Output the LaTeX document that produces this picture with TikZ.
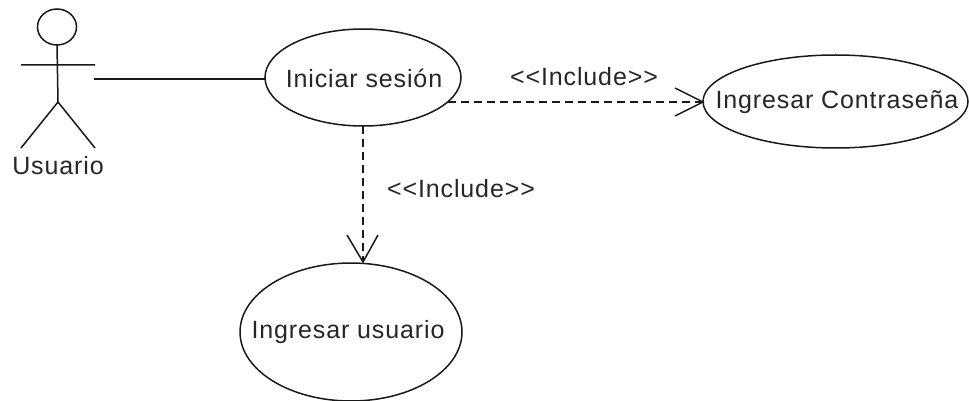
\documentclass[tikz,border=0pt]{standalone}
\usepackage{fontspec}
\setmainfont[LetterSpace=3.5]{Liberation Sans}
\usetikzlibrary{shapes.geometric,calc}
\tikzset{
 usecase/.style={draw=black!90,line width=1.5pt,ellipse,inner sep=0pt,outer sep=0pt},
 txt/.style={font=\fontsize{25pt}{28pt}\selectfont,text=black!85,inner sep=0pt},
 actorline/.style={draw=black!90,line width=1.5pt},
 incl/.style={draw=black!90,line width=1.5pt,dash pattern=on 8pt off 5pt},
 head/.style={draw=black!90,line width=1.5pt},
}
\begin{document}
\begin{tikzpicture}[x=1pt,y=-1pt]
\useasboundingbox (0,0) rectangle (969,401);
\node[usecase,minimum width=196pt,minimum height=97pt] (login) at (363,77.5) {};
\node[usecase,minimum width=265pt,minimum height=93pt] (pass) at (835.5,101.5) {};
\node[usecase,minimum width=222pt,minimum height=138pt] (user) at (351,332) {};
\node[txt] (logintext) at (364,78) {Iniciar sesión};
\node[txt] (passtext) at (837,102) {Ingresar Contraseña};
\node[txt] (usertext) at (348,332) {Ingresar usuario};
\draw[actorline] (57,27) ellipse (19.5 and 18);
\coordinate (neck) at (57,45);
\coordinate (hip) at (58,102);
\coordinate (armL) at (21,65);
\coordinate (armR) at (95,65);
\coordinate (legL) at (21,148);
\coordinate (legR) at (95,148);
\draw[actorline] (neck) -- (hip) (armL) -- (armR) (hip) -- (legL) (hip) -- (legR);
\node[txt] (actorlabel) at (58,166) {Usuario};
\coordinate (assoc) at (94,79);
\draw[actorline] (assoc) -- (assoc -| login.west);
\coordinate (a1) at (448,102);
\coordinate (a2) at (703,102);
\draw[incl] (a1) -- (a2);
\draw[head] (675,88) -- (a2) -- (675,116);
\coordinate (b1) at (363,126);
\coordinate (b2) at (363,262);
\draw[incl] (b1) -- (b2);
\draw[head] (347,235) -- (b2) -- (378,235);
\node[txt] (l1) at (584,77) {<{}<Include>{}>};
\node[txt] (l2) at (461,189) {<{}<Include>{}>};
\end{tikzpicture}
\end{document}
